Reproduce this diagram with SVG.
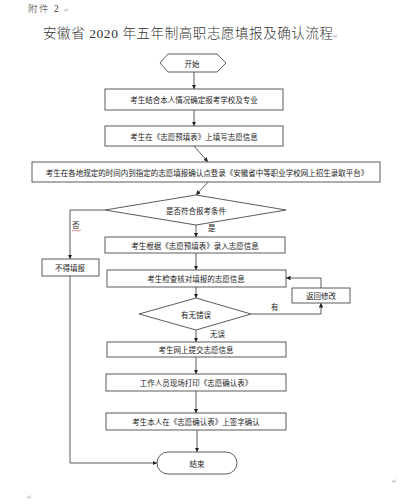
<svg xmlns="http://www.w3.org/2000/svg" width="400" height="504" viewBox="0 0 400 504">
<style>
.bg{fill:#fff}
.box{fill:#fff;stroke:#4a4a4a;stroke-width:0.9}
.t{font-family:"Noto Sans CJK SC","Noto Sans CJK JP",sans-serif;font-size:7.5px;fill:#1a1a1a;text-anchor:middle;dominant-baseline:central}
.lbl{font-family:"Noto Sans CJK SC",sans-serif;font-size:7.5px;fill:#1a1a1a}
.pm{font-family:"DejaVu Sans",sans-serif;font-size:6px;fill:#aaa}
.ln{fill:none;stroke:#4a4a4a;stroke-width:0.9}
.hd{font-family:"Liberation Serif","Noto Sans CJK SC",serif;fill:#333;font-weight:300}
</style>
<defs>
<marker id="ah" viewBox="0 0 8 8" refX="8" refY="4" markerWidth="4.5" markerHeight="4.5" markerUnits="userSpaceOnUse" orient="auto">
<path d="M0,0 L8,4 L0,8 z" fill="#222"/>
</marker>
</defs>
<rect class="bg" x="0" y="0" width="400" height="504"/>

<g id="header">
<text class="hd" x="28" y="12" font-size="9.5" letter-spacing="1.5">附件 2</text>
<text class="pm" x="64" y="12">↵</text>
<text class="hd" x="43" y="38" font-size="13.5" textLength="290" lengthAdjust="spacing">安徽省 2020 年五年制高职志愿填报及确认流程</text>
<text class="pm" x="333" y="38">↵</text>
</g>

<g id="connectors">
<line class="ln" x1="194" y1="72" x2="194" y2="89" marker-end="url(#ah)"/>
<line class="ln" x1="194" y1="110" x2="194" y2="126" marker-end="url(#ah)"/>
<line class="ln" x1="194" y1="146" x2="208" y2="162" marker-end="url(#ah)"/>
<line class="ln" x1="208" y1="182" x2="196" y2="195" marker-end="url(#ah)"/>
<polyline class="ln" points="105,210 70,210 70,259" marker-end="url(#ah)"/>
<line class="ln" x1="196" y1="225" x2="196" y2="237" marker-end="url(#ah)"/>
<line class="ln" x1="196" y1="253" x2="196" y2="270" marker-end="url(#ah)"/>
<line class="ln" x1="196" y1="287" x2="196" y2="298" marker-end="url(#ah)"/>
<polyline class="ln" points="251,314 321,314 321,303" marker-end="url(#ah)"/>
<polyline class="ln" points="321,288 321,278 286,278" marker-end="url(#ah)"/>
<line class="ln" x1="196" y1="330" x2="196" y2="342" marker-end="url(#ah)"/>
<line class="ln" x1="196" y1="357" x2="196" y2="374" marker-end="url(#ah)"/>
<line class="ln" x1="196" y1="391" x2="196" y2="413" marker-end="url(#ah)"/>
<line class="ln" x1="197" y1="430" x2="197" y2="452" marker-end="url(#ah)"/>
<polyline class="ln" points="70,276 70,463 157,463" marker-end="url(#ah)"/>
<text class="lbl" x="72" y="228">否</text>
<path d="M72,231 L75,230 L78,231 L81,230" stroke="#d33" stroke-width="0.6" fill="none"/>
<text class="lbl" x="208" y="231">是</text>
<text class="lbl" x="271" y="310">有</text>
<text class="lbl" x="210" y="337">无误</text>
</g>

<g id="start">
<polygon class="box" points="160,63 168,54 217,54 226,63 217,72 168,72"/>
<text class="t" x="192" y="63">开始</text>
</g>
<g id="n1">
<rect class="box" x="105" y="89" width="178" height="21"/>
<text class="t" x="194" y="99.5">考生结合本人情况确定报考学校及专业</text>
</g>
<g id="n2">
<rect class="box" x="105" y="126" width="178" height="20"/>
<text class="t" x="194" y="136">考生在《志愿预填表》上填写志愿信息</text>
</g>
<g id="n3">
<rect class="box" x="32" y="162" width="348" height="20"/>
<text class="t" x="207" y="172">考生在各地规定的时间内到指定的志愿填报确认点登录《安徽省中等职业学校网上招生录取平台》</text>
</g>
<g id="d1">
<polygon class="box" points="105,210 196,195 286,210 196,225"/>
<text class="t" x="196" y="210">是否符合报考条件</text>
</g>
<g id="n4">
<rect class="box" x="105" y="237" width="180" height="16"/>
<text class="t" x="195" y="245">考生根据《志愿预填表》录入志愿信息</text>
</g>
<g id="reject">
<rect class="box" x="42" y="259" width="57" height="17"/>
<text class="t" x="70" y="267.5">不得填报</text>
</g>
<g id="n5">
<rect class="box" x="107" y="270" width="179" height="17"/>
<text class="t" x="196" y="278.5">考生检查核对填报的志愿信息</text>
</g>
<g id="d2">
<polygon class="box" points="139,314 196,298 251,314 196,330"/>
<text class="t" x="196" y="314">有无错误</text>
</g>
<g id="back">
<rect class="box" x="292" y="288" width="58" height="15"/>
<text class="t" x="321" y="295.5">返回修改</text>
</g>
<g id="n6">
<rect class="box" x="107" y="342" width="179" height="15"/>
<text class="t" x="196" y="349.5">考生网上提交志愿信息</text>
</g>
<g id="n7">
<rect class="box" x="106" y="374" width="180" height="17"/>
<text class="t" x="196" y="382.5">工作人员现场打印《志愿确认表》</text>
</g>
<g id="n8">
<rect class="box" x="106" y="413" width="180" height="17"/>
<text class="t" x="196" y="421.5">考生本人在《志愿确认表》上签字确认</text>
</g>
<g id="end">
<rect class="box" x="157" y="452" width="80" height="22" rx="11" ry="11"/>
<text class="t" x="197" y="463">结束</text>
</g>
<text class="pm" x="392" y="483">↵</text>
<text class="pm" x="27" y="499">↵</text>
</svg>
